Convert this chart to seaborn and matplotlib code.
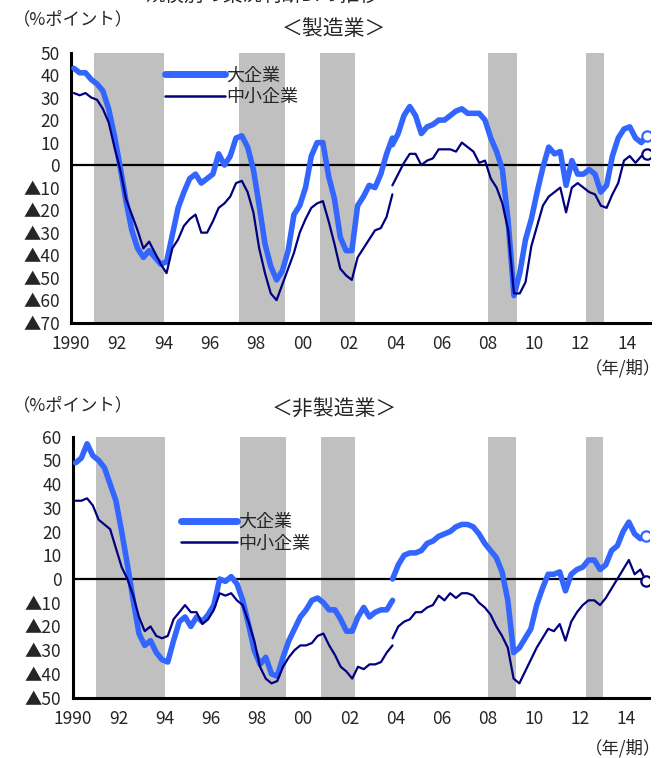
import matplotlib
matplotlib.use('Agg')
import matplotlib.pyplot as plt
import numpy as np
import pandas as pd
import seaborn as sns

# quarterly survey results, 1990Q1 - 2014Q4 (last point = forecast)
quarters = pd.period_range('1990Q1', '2014Q4', freq='Q')
BREAK = 55  # 2003Q4: survey revised, old and new basis both published

# manufacturing, large firms
mfg_large = [43, 41, 41, 38,  36, 33, 25, 13,  -1, -16, -29, -37,  -41, -38, -41, -44,
             -43, -31, -19, -12,  -6, -4, -8, -6,  -4, 5, 0, 4,  12, 13, 8, -2,
             -18, -35, -45, -51,  -47, -38, -22, -18,  -10, 4, 10, 10,  -5, -15, -32, -38,
             -38, -18, -14, -9,  -10, -4, 5, 12,  14, 22, 26, 22,  14, 17, 18, 20,
             20, 22, 24, 25,  23, 23, 23, 20,  12, 6, -2, -25,  -58, -48, -33, -24,
             -12, -1, 8, 5,  6, -9, 2, -4,  -4, -2, -4, -12,  -9, 4, 12, 16,
             17, 12, 10, 13]
mfg_large_new_0312 = 9
# manufacturing, small and medium firms
mfg_small = [32, 31, 32, 30,  29, 25, 19, 8,  -2, -15, -22, -29,  -37, -34, -39, -44,
             -48, -37, -33, -27,  -24, -22, -30, -30,  -25, -19, -17, -14,  -8, -7, -12, -21,
             -37, -48, -57, -60,  -53, -46, -39, -30,  -24, -19, -17, -16,  -25, -35, -46, -49,
             -51, -41, -37, -33,  -29, -28, -23, -13,  -4, 1, 5, 5,  0, 2, 3, 7,
             7, 7, 6, 10,  8, 6, 1, 2,  -6, -10, -17, -29,  -57, -57, -52, -36,
             -27, -18, -14, -12,  -10, -21, -10, -8,  -10, -12, -13, -18,  -19, -13, -8, 2,
             4, 1, 4, 5]
mfg_small_new_0312 = -9
# non-manufacturing, large firms
nonmfg_large = [49, 51, 57, 52,  50, 47, 40, 33,  20, 6, -9, -23,  -28, -26, -31, -34,
                -35, -26, -18, -16,  -20, -16, -18, -15,  -11, 0, -1, 1,  -2, -9, -19, -30,
                -36, -33, -40, -41,  -33, -26, -21, -16,  -13, -9, -8, -10,  -13, -13, -17, -22,
                -22, -16, -12, -16,  -14, -13, -13, -9,  6, 10, 11, 11,  12, 15, 16, 18,
                19, 20, 22, 23,  23, 22, 19, 15,  12, 9, 3, -9,  -31, -29, -25, -21,
                -11, -4, 2, 2,  3, -5, 2, 4,  5, 8, 8, 4,  6, 12, 14, 20,
                24, 19, 17, 18]
nonmfg_large_new_0312 = 0
# non-manufacturing, small and medium firms
nonmfg_small = [33, 33, 34, 31,  25, 23, 21, 13,  5, 0, -7, -16,  -22, -20, -24, -25,
                -24, -17, -14, -11,  -14, -14, -19, -17,  -13, -6, -7, -6,  -9, -11, -18, -26,
                -37, -42, -44, -43,  -37, -33, -30, -28,  -28, -27, -24, -23,  -28, -32, -37, -39,
                -42, -37, -38, -36,  -36, -35, -31, -28,  -20, -18, -17, -14,  -14, -12, -11, -7,
                -9, -6, -8, -6,  -6, -7, -10, -12,  -15, -20, -24, -29,  -42, -44, -39, -34,
                -29, -25, -21, -22,  -19, -26, -18, -14,  -11, -9, -9, -11,  -8, -4, 0, 4,
                8, 2, 4, -1]
nonmfg_small_new_0312 = -25

# recession periods (shaded)
recessions = [(1991.0, 1994.0), (1997.25, 1999.25), (2000.75, 2002.25),
              (2008.0, 2009.25), (2012.25, 2013.0)]

LARGE = '#3366FF'
SMALL = '#000080'

sns.set_style('white')
plt.rcParams['font.family'] = ['Noto Sans CJK JP', 'DejaVu Sans']

x = np.array(quarters.year + (quarters.quarter - 0.5) / 4, dtype=float)


def draw_panel(ax, large, large_new, small, small_new, ylim, yticks, leg_anchor, hlen):
    for a, b in recessions:
        ax.axvspan(a, b, color='#C0C0C0', lw=0, zorder=0)
    ax.axhline(0, color='black', lw=1.6, zorder=1)

    for vals, new0, color, lw in [(large, large_new, LARGE, 4.0),
                                  (small, small_new, SMALL, 1.6)]:
        old_x, old_y = x[:BREAK + 1], vals[:BREAK + 1]
        new_x, new_y = x[BREAK:], [new0] + vals[BREAK + 1:]
        sns.lineplot(x=old_x, y=old_y, color=color, lw=lw, ax=ax,
                     estimator=None, sort=False, zorder=3)
        sns.lineplot(x=new_x, y=new_y, color=color, lw=lw, ax=ax,
                     estimator=None, sort=False, zorder=3)
        sns.scatterplot(x=[x[-1]], y=[vals[-1]], ax=ax, marker='o', s=55,
                        facecolor='white', edgecolor=color, linewidth=1.6, zorder=4)

    ax.set_xlim(1990, 2015)
    ax.set_ylim(*ylim)
    ax.set_yticks(yticks)
    ax.set_yticklabels([f'▲{-v}' if v < 0 else f'{v}' for v in yticks])
    years = list(range(1990, 2016))
    ax.set_xticks(years)
    ax.set_xticklabels(['1990' if y == 1990 else (f'{y % 100:02d}' if y % 2 == 0 and y < 2015 else '')
                        for y in years])
    ax.tick_params(axis='y', direction='in', length=5, width=1.6, labelsize=12.5, pad=8)
    ax.tick_params(axis='x', direction='out', length=5, width=1.6, labelsize=12.5, pad=4)
    for s in ['top', 'right']:
        ax.spines[s].set_visible(False)
    for s in ['left', 'bottom']:
        ax.spines[s].set_linewidth(2.2)
        ax.spines[s].set_color('black')
    ax.set_xlabel('')
    ax.set_ylabel('')

    handles = [plt.Line2D([], [], color=LARGE, lw=5),
               plt.Line2D([], [], color=SMALL, lw=1.8)]
    ax.legend(handles, ['大企業', '中小企業'], loc='upper left', bbox_to_anchor=leg_anchor,
              frameon=False, fontsize=13, handlelength=hlen, handletextpad=0.1,
              labelspacing=0.2, borderaxespad=0)


fig = plt.figure(figsize=(6.68, 7.58), dpi=100)
ax1 = fig.add_axes([0.1063, 0.5743, 0.8668, 0.3564])
ax2 = fig.add_axes([0.1088, 0.0797, 0.8628, 0.3442])

draw_panel(ax1, mfg_large, mfg_large_new_0312, mfg_small, mfg_small_new_0312,
           (-70, 50), list(range(50, -71, -10)), (0.15, 0.975), 3.3)
draw_panel(ax2, nonmfg_large, nonmfg_large_new_0312, nonmfg_small, nonmfg_small_new_0312,
           (-50, 60), list(range(60, -51, -10)), (0.175, 0.735), 3.1)

fig.text(0.393, 1.006, '規模別の業況判断DIの推移', ha='center', va='center', fontsize=14)
fig.text(0.5, 0.962, '＜製造業＞', ha='center', va='center', fontsize=15)
fig.text(0.5, 0.460, '＜非製造業＞', ha='center', va='center', fontsize=15)
fig.text(0.02, 0.975, '（%ポイント）', ha='left', va='center', fontsize=12.5)
fig.text(0.02, 0.465, '（%ポイント）', ha='left', va='center', fontsize=12.5)
fig.text(0.99, 0.514, '（年/期）', ha='right', va='center', fontsize=12.5)
fig.text(0.99, 0.013, '（年/期）', ha='right', va='center', fontsize=12.5)

fig.savefig('out.png', dpi=100)
